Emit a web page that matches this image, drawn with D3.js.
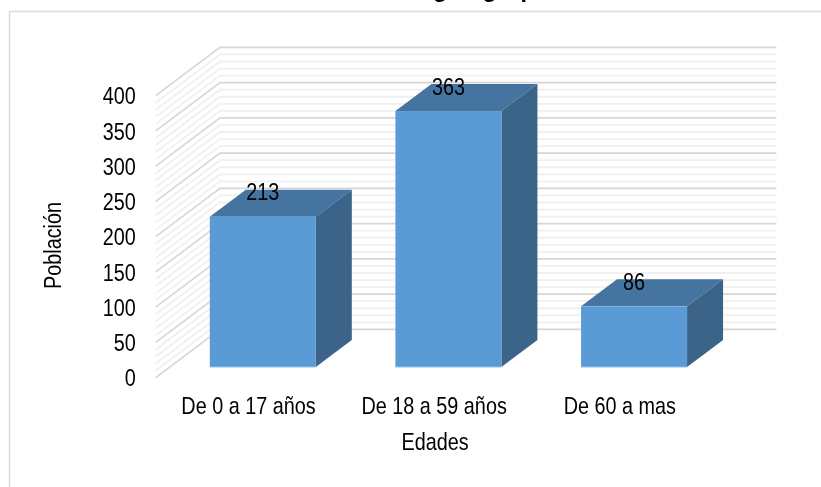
<!DOCTYPE html>
<html><head><meta charset="utf-8">
<script src="https://cdnjs.cloudflare.com/ajax/libs/d3/7.8.5/d3.min.js"></script>
<style>
html,body{margin:0;padding:0;background:#fff;overflow:hidden}
svg{display:block;filter:blur(0.4px)}
text{font-family:"Liberation Sans",Arial,sans-serif;fill:#000;font-size:24px}
</style></head><body>
<svg id="c" width="821" height="487"></svg>
<script>
const categories = ["De 0 a 17 años","De 18 a 59 años","De 60 a mas"];
const values = [213,363,86];
const yTicks = [0,50,100,150,200,250,300,350,400];
const minorTicks = d3.range(0,401,10);
const titleText = "Población según grupo etario";
const yTitle = "Población";
const xTitle = "Edades";

const W=821,H=487;
const squeeze=0.825;
const svg=d3.select("#c");
const frontLeft=155.7, frontRight=712.6, floorFront=377.7;
const dX=64.3, dY=48.3;
const x=d3.scaleBand().domain(categories).range([frontLeft,frontRight]).paddingInner(0.429).paddingOuter(0.2145);
const y=d3.scaleLinear().domain([0,400]).range([floorFront,floorFront-282]);
const depth0=0.222, depth1=0.782;
const line=d3.line();
const place=(px,py)=>`translate(${px},${py}) scale(${squeeze},1)`;

// frame
svg.append("path").attr("d",line([[W,11.5],[9.5,11.5],[9.5,H]])).attr("fill","none").attr("stroke","#dcdcdc").attr("stroke-width",1.6);

// walls
const wall=svg.append("g").attr("fill","none");
function gridPts(v){return [[frontLeft,y(v)],[frontLeft+dX,y(v)-dY],[frontRight+dX-0.5,y(v)-dY]];}
wall.selectAll("path.minor").data(minorTicks.filter(v=>v%50!==0)).join("path").attr("class","minor")
  .attr("d",v=>line(gridPts(v))).attr("stroke","#f0f0f0").attr("stroke-width",1.8);
wall.selectAll("path.major").data(yTicks).join("path").attr("class","major")
  .attr("d",v=>line(gridPts(v))).attr("stroke","#d6d6d6").attr("stroke-width",1.6);

// bars
const bars=svg.append("g").selectAll("g").data(categories.map((c,i)=>({c,v:values[i]}))).join("g");
const px=(d,right,t)=>x(d.c)+(right?x.bandwidth():0)+dX*t;
const py=(v,t)=>y(v)-dY*t;
bars.append("path").attr("fill","#44749f").attr("d",d=>line([[px(d,0,depth0),py(d.v,depth0)],[px(d,1,depth0),py(d.v,depth0)],[px(d,1,depth1),py(d.v,depth1)],[px(d,0,depth1),py(d.v,depth1)]])+"Z");
bars.append("path").attr("fill","#3b6488").attr("d",d=>line([[px(d,1,depth0),py(d.v,depth0)],[px(d,1,depth1),py(d.v,depth1)],[px(d,1,depth1),py(0,depth1)],[px(d,1,depth0),py(0,depth0)]])+"Z");
bars.append("rect").attr("fill","#5b9bd5").attr("x",d=>px(d,0,depth0)).attr("width",x.bandwidth())
  .attr("y",d=>py(d.v,depth0)).attr("height",d=>py(0,depth0)-py(d.v,depth0));
bars.append("path").attr("stroke","#8dbbe4").attr("stroke-width",1).attr("fill","none")
  .attr("d",d=>line([[px(d,0,depth0),py(0,depth0)],[px(d,1,depth0),py(0,depth0)]]));
bars.append("text").attr("text-anchor","middle").attr("dominant-baseline","central")
  .attr("transform",d=>place(px(d,0,depth0)+x.bandwidth()/2,py(d.v,depth0)-24.5)).text(d=>d.v);

// y axis
const ax=svg.append("g").attr("transform","translate(155.7,0)")
  .call(d3.axisLeft(y).tickValues(yTicks).tickSize(0).tickFormat(d3.format("d")));
ax.select(".domain").remove();
ax.selectAll("text").style("font-family",'"Liberation Sans",Arial,sans-serif').style("font-size","24px").attr("fill","#000")
  .attr("x",null).attr("dy",null).attr("dominant-baseline","central").attr("text-anchor","end")
  .attr("transform",`translate(-20,0) scale(${squeeze},1)`);

// x labels
svg.append("g").selectAll("text").data(categories).join("text").attr("text-anchor","middle").attr("dominant-baseline","central")
  .attr("transform",d=>place(x(d)+x.bandwidth()/2,405.7)).text(d=>d);

svg.append("text").attr("text-anchor","middle").attr("dominant-baseline","central").attr("transform",place(435,442)).text(xTitle);
svg.append("text").attr("text-anchor","middle").attr("dominant-baseline","central")
  .attr("transform",`translate(53,245.5) rotate(-90) scale(${squeeze},1)`).text(yTitle);

// title, clipped by the top of the canvas as in the reference
svg.append("text").attr("text-anchor","start").attr("x",288).attr("y",-3)
  .style("font-weight","700").style("font-size","23.5px").text(titleText);
</script>
</body></html>
